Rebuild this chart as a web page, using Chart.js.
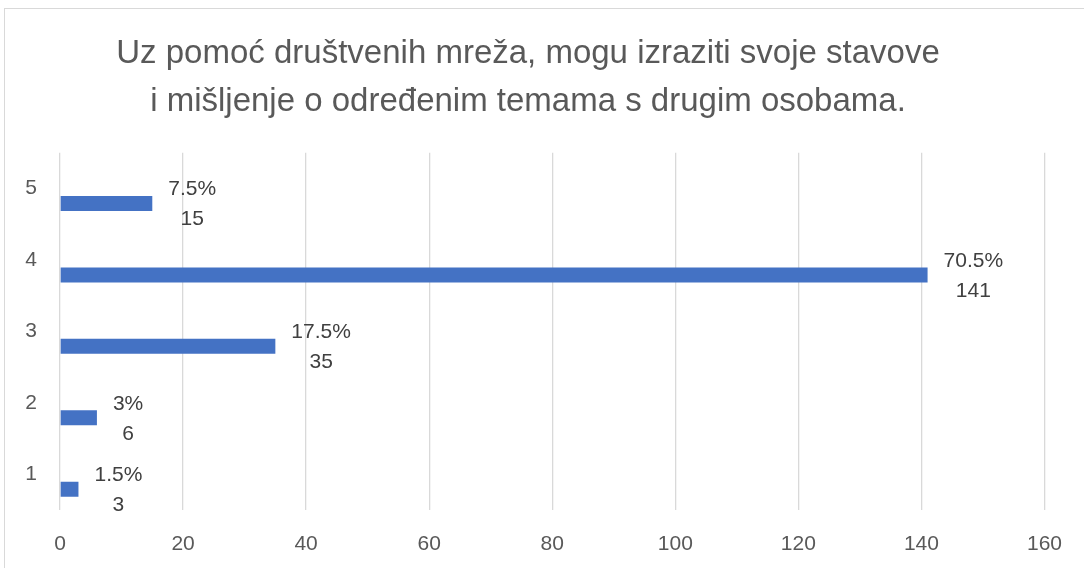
<!DOCTYPE html>
<html>
<head>
<meta charset="utf-8">
<script src="https://cdn.jsdelivr.net/npm/chart.js@4"></script>
<style>
  html, body { margin: 0; padding: 0; background: #fff; }
  #frame {
    position: absolute; left: 4px; top: 8px; width: 1200px; height: 700px;
    border-top: 1px solid #d9d9d9; border-left: 1px solid #d9d9d9;
  }
  #wrap { position: absolute; left: 0; top: 0; width: 1084px; height: 568px; }
</style>
</head>
<body>
<div id="frame"></div>
<div id="wrap"><canvas id="bars" width="1084" height="568"></canvas></div>
<script>
// categories top to bottom, as in the picture
var categories = ["5", "4", "3", "2", "1"];
var counts = [15, 141, 35, 6, 3];
var percents = ["7.5%", "70.5%", "17.5%", "3%", "1.5%"];
var xTicks = [0, 20, 40, 60, 80, 100, 120, 140, 160];

var FONT = "'Liberation Sans', sans-serif";

// draws "percent \n count" to the right of each bar, block centred on its widest line
var barLabels = {
  id: "barLabels",
  afterDatasetsDraw(chart) {
    var ctx = chart.ctx;
    var meta = chart.getDatasetMeta(1);
    ctx.save();
    ctx.fillStyle = "#404040";
    ctx.font = "21px " + FONT;
    ctx.textAlign = "center";
    ctx.textBaseline = "middle";
    meta.data.forEach(function (bar, i) {
      var a = percents[i], b = String(counts[i]);
      var w = Math.max(ctx.measureText(a).width, ctx.measureText(b).width);
      var x = bar.x + 16 + w / 2;
      ctx.fillText(a, x, bar.y - 14);
      ctx.fillText(b, x, bar.y + 16);
    });
    ctx.restore();
  }
};

new Chart(document.getElementById("bars"), {
  type: "bar",
  data: {
    labels: categories,
    datasets: [
      // empty series, keeps the real bars in the lower half of each band
      { label: "", data: categories.map(function () { return null; }) },
      {
        label: "count",
        data: counts,
        backgroundColor: "#4472c4",
        borderWidth: 0
      }
    ]
  },
  options: {
    indexAxis: "y",
    responsive: false,
    animation: false,
    datasets: { bar: { categoryPercentage: 0.84, barPercentage: 0.5 } },
    layout: { padding: { left: 10, right: 38, top: 0, bottom: 0 } },
    plugins: {
      legend: { display: false },
      tooltip: { enabled: false },
      title: {
        display: true,
        text: ["Uz pomoć društvenih mreža, mogu izraziti svoje stavove",
               "i mišljenje o određenim temama s drugim osobama."],
        color: "#595959",
        font: { family: FONT, size: 33, weight: "normal", lineHeight: 1.45 },
        padding: { top: 30, bottom: 27 }
      }
    },
    scales: {
      x: {
        min: 0,
        max: 160,
        afterBuildTicks(scale) {
          scale.ticks = xTicks.map(function (v) { return { value: v }; });
        },
        afterFit(scale) { scale.height = 58; },
        grid: { color: "#d9d9d9", lineWidth: 1.3, drawTicks: false },
        border: { display: false },
        ticks: { color: "#595959", font: { family: FONT, size: 21 }, padding: 22 }
      },
      y: {
        afterFit(scale) { scale.width = 50; },
        grid: { display: false, drawTicks: false },
        border: { display: false },
        ticks: { color: "#595959", font: { family: FONT, size: 21 }, padding: 23 }
      }
    }
  },
  plugins: [barLabels]
});
</script>
</body>
</html>
